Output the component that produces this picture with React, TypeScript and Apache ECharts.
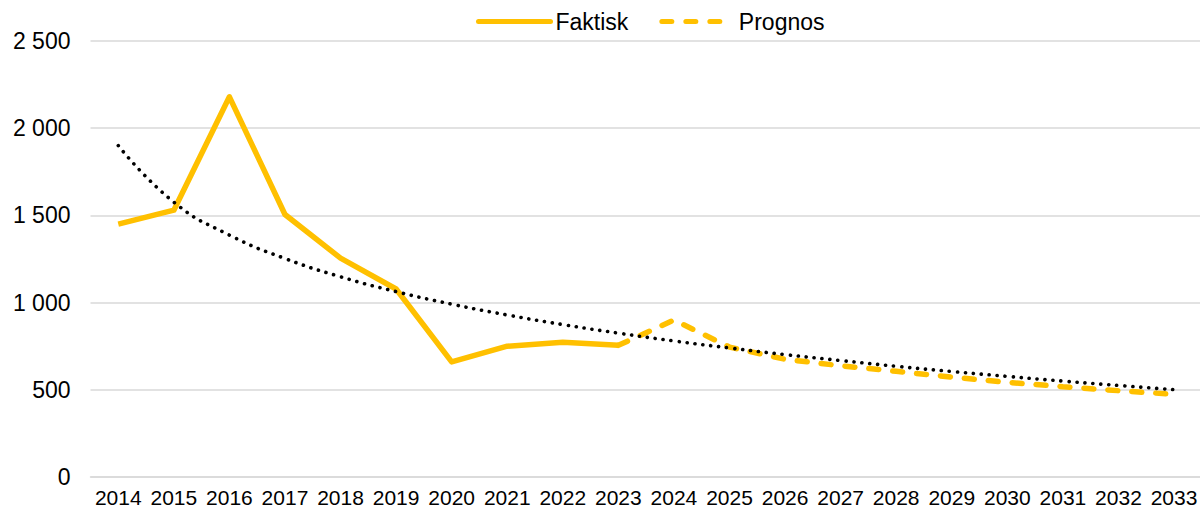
import React, { useEffect, useRef } from "react";
import * as echarts from "echarts";

const years = ["2014","2015","2016","2017","2018","2019","2020","2021","2022","2023","2024","2025","2026","2027","2028","2029","2030","2031","2032","2033"];
const faktisk = [1450, 1530, 2180, 1505, 1255, 1078, 660, 750, 772, 755, null, null, null, null, null, null, null, null, null, null];
const prognos = [null, null, null, null, null, null, null, null, null, 755, 900, 745, 675, 638, 606, 573, 543, 518, 495, 474];
const trend = [1900, 1576, 1387, 1253, 1148, 1063, 991, 929, 874, 825, 780, 740, 702, 668, 635, 605, 577, 550, 525, 501];
const yTicks = [0, 500, 1000, 1500, 2000, 2500];

const FONT = "'Liberation Sans', Arial, sans-serif";
const YELLOW = "#FFC000";

export default function App() {
  const ref = useRef<HTMLDivElement>(null);
  useEffect(() => {
    if (!ref.current) return;
    const chart = echarts.init(ref.current, undefined, { renderer: "svg" });
    chart.setOption({
      animation: false,
      backgroundColor: "#ffffff",
      textStyle: { fontFamily: FONT },
      grid: { left: 90.5, right: -1.8, top: 41, bottom: 31, containLabel: false, outerBoundsMode: "none" },
      legend: {
        data: ["Faktisk", "Prognos"],
        left: 471,
        top: 5,
        itemWidth: 72,
        itemHeight: 20,
        itemGap: 31,
        itemStyle: { opacity: 0, borderWidth: 0 },
        lineStyle: { width: 5, cap: "round" },
        textStyle: { fontFamily: FONT, fontSize: 23, color: "#000000", padding: [0, 0, 0, 0] },
      },
      xAxis: {
        type: "category",
        data: years,
        boundaryGap: true,
        axisLine: { show: true, lineStyle: { color: "#D9D9D9", width: 1.5 } },
        axisTick: { show: false },
        axisLabel: { fontFamily: FONT, fontSize: 21, lineHeight: 21, color: "#000000", margin: 10, interval: 0 },
      },
      yAxis: {
        type: "value",
        min: yTicks[0],
        max: yTicks[yTicks.length - 1],
        interval: 500,
        axisLine: { show: false },
        axisTick: { show: false },
        splitLine: { show: true, lineStyle: { color: "#D9D9D9", width: 1.5 } },
        axisLabel: {
          fontFamily: FONT,
          fontSize: 23,
          color: "#000000",
          margin: 20,
          formatter: (v: number) => v.toLocaleString("en-US").replace(/,/g, " "),
        },
      },
      series: [
        {
          name: "Trend",
          type: "line",
          data: trend,
          smooth: true,
          symbol: "none",
          z: 3,
          lineStyle: { color: "#000000", width: 3.6, type: [0.1, 7.9], cap: "round" },
        },
        {
          name: "Faktisk",
          type: "line",
          data: faktisk,
          symbol: "none",
          z: 2,
          lineStyle: { color: YELLOW, width: 5.5, join: "round" },
          itemStyle: { color: YELLOW },
        },
        {
          name: "Prognos",
          type: "line",
          data: prognos,
          symbol: "none",
          z: 2,
          lineStyle: { color: YELLOW, width: 5.5, type: [10, 14], cap: "round" },
          itemStyle: { color: YELLOW },
        },
      ],
    });
    return () => chart.dispose();
  }, []);
  return (
    <div
      ref={ref}
      style={{ position: "fixed", left: 0, top: 0, width: 1200, height: 508, background: "#fff" }}
    />
  );
}
